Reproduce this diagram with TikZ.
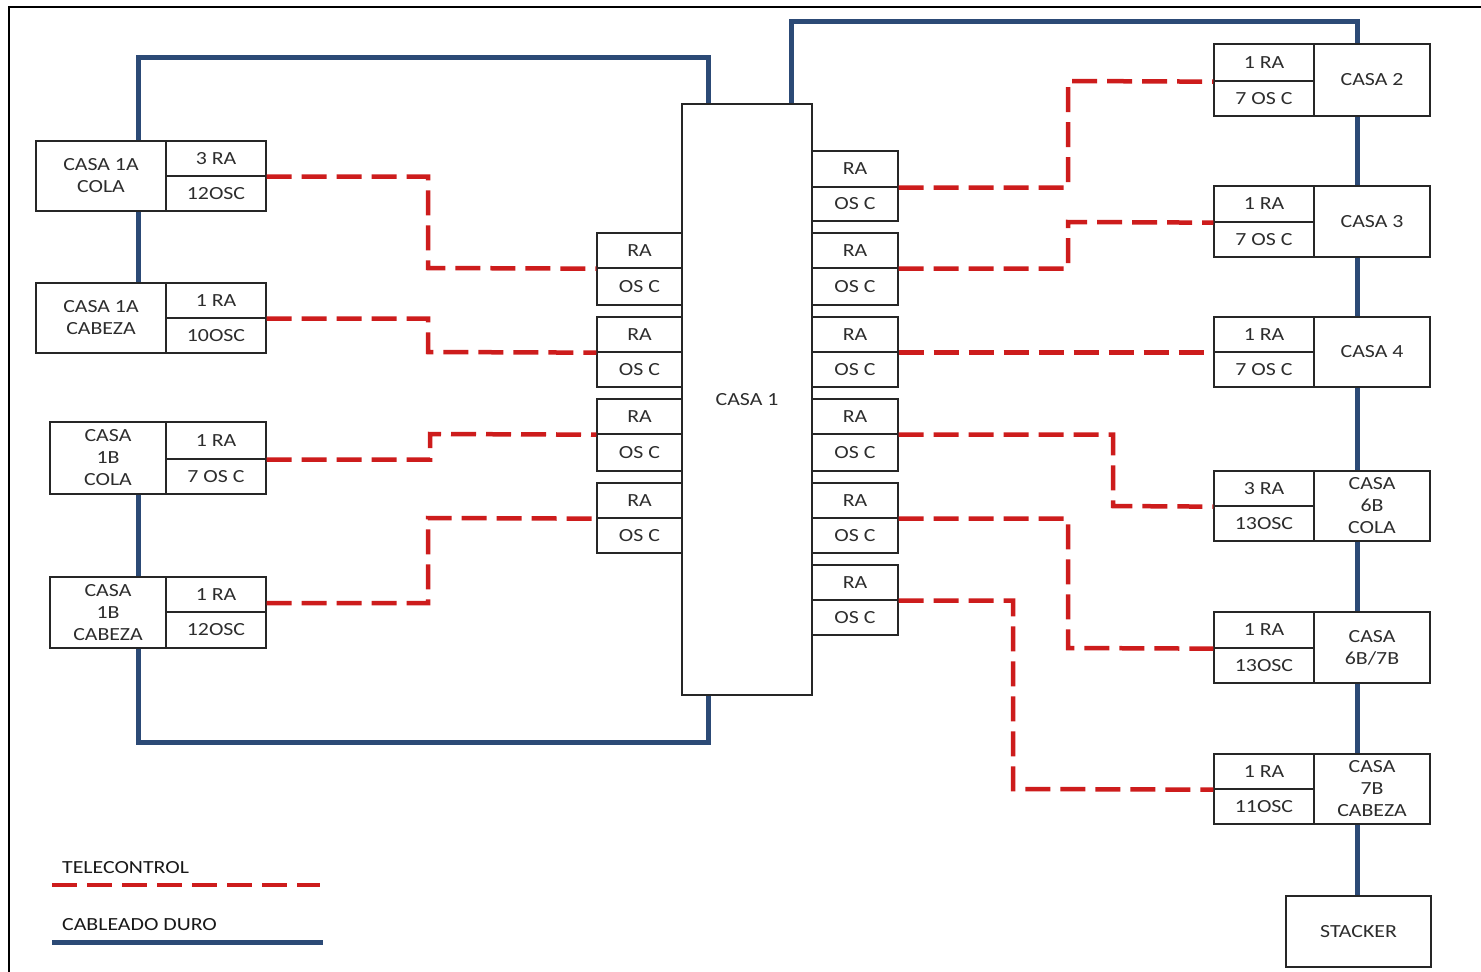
\documentclass[tikz,border=0pt]{standalone}
\usepackage{fontspec}
\newfontfamily\lab{Carlito}[FakeStretch=1.18]
\definecolor{telecol}{RGB}{205,28,28}
\definecolor{cablecol}{RGB}{44,74,118}
\definecolor{txtcol}{RGB}{45,45,45}
\tikzset{
  box/.style={draw=black!85, line width=1.3pt, inner sep=0pt, align=center,
    text=txtcol, font={\lab\fontsize{18.5}{22}\selectfont}},
  cable/.style={line width=5pt, draw=cablecol},
  tele/.style={line width=4.5pt, draw=telecol, dash pattern=on 25pt off 10pt},
  legtxt/.style={anchor=west, inner sep=0pt, text=black!90, font={\lab\fontsize{18.5}{22}\selectfont}},
}
% name, x1, x2, y1, ysplit, y2, top text, bottom text
\newcommand\twobox[8]{%
  \node[box, minimum width={(#3-#2)*1pt}, minimum height={(#5-#4)*1pt}] (#1-t) at ({(#2+#3)/2},{(#4+#5)/2}) {#7};
  \node[box, minimum width={(#3-#2)*1pt}, minimum height={(#6-#5)*1pt}] (#1-b) at ({(#2+#3)/2},{(#5+#6)/2}) {#8};
}
% name, x1, x2, y1, y2, text
\newcommand\onebox[6]{%
  \node[box, minimum width={(#3-#2)*1pt}, minimum height={(#5-#4)*1pt}] (#1) at ({(#2+#3)/2},{(#4+#5)/2}) {#6};
}
\begin{document}
\begin{tikzpicture}[x=1pt,y=-1pt]
\useasboundingbox (0,0) rectangle (1481,972);
\fill[white] (0,0) rectangle (1481,972);
% frame
\draw[line width=2.2pt] (9,972) -- (9,7) -- (1481,7);

% CASA 1 with its modules
\onebox{casa1}{682}{812}{104}{695}{CASA 1}
\twobox{m1}{597}{682}{233}{268}{305}{RA}{OS C}
\twobox{m2}{597}{682}{317}{352}{387}{RA}{OS C}
\twobox{m3}{597}{682}{399}{434}{471}{RA}{OS C}
\twobox{m4}{597}{682}{483}{518}{553}{RA}{OS C}
\twobox{r1}{812}{898}{151}{187}{221}{RA}{OS C}
\twobox{r2}{812}{898}{233}{268}{305}{RA}{OS C}
\twobox{r3}{812}{898}{317}{352}{387}{RA}{OS C}
\twobox{r4}{812}{898}{399}{434}{471}{RA}{OS C}
\twobox{r5}{812}{898}{483}{518}{553}{RA}{OS C}
\twobox{r6}{812}{898}{565}{600}{635}{RA}{OS C}

% left houses
\onebox{c1a}{36}{166}{141}{211}{CASA 1A\\COLA}
\twobox{c1am}{166}{266}{141}{176}{211}{3 RA}{12OSC}
\onebox{c1ah}{36}{166}{283}{353}{CASA 1A\\CABEZA}
\twobox{c1ahm}{166}{266}{283}{318}{353}{1 RA}{10OSC}
\onebox{c1bc}{50}{166}{422}{494}{CASA\\1B\\COLA}
\twobox{c1bcm}{166}{266}{422}{459}{494}{1 RA}{7 OS C}
\onebox{c1bh}{50}{166}{577}{648}{CASA\\1B\\CABEZA}
\twobox{c1bhm}{166}{266}{577}{612}{648}{1 RA}{12OSC}

% right houses
\twobox{c2m}{1214}{1314}{44}{81}{116}{1 RA}{7 OS C}
\onebox{c2}{1314}{1430}{44}{116}{CASA 2}
\twobox{c3m}{1214}{1314}{186}{222}{257}{1 RA}{7 OS C}
\onebox{c3}{1314}{1430}{186}{257}{CASA 3}
\twobox{c4m}{1214}{1314}{317}{352}{387}{1 RA}{7 OS C}
\onebox{c4}{1314}{1430}{317}{387}{CASA 4}
\twobox{c6cm}{1214}{1314}{471}{506}{541}{3 RA}{13OSC}
\onebox{c6c}{1314}{1430}{471}{541}{CASA\\6B\\COLA}
\twobox{c67m}{1214}{1314}{612}{648}{683}{1 RA}{13OSC}
\onebox{c67}{1314}{1430}{612}{683}{CASA\\6B/7B}
\twobox{c7m}{1214}{1314}{754}{789}{824}{1 RA}{11OSC}
\onebox{c7}{1314}{1430}{754}{824}{CASA\\7B\\CABEZA}
\onebox{stacker}{1286}{1431}{896}{967}{STACKER}

% hard wiring (left loop)
\draw[cable] (c1a.north -| 138,0) |- (708,57) -- (casa1.north -| 708,0);
\draw[cable] (c1a.south -| 138,0) -- (c1ah.north -| 138,0);
\draw[cable] (c1bc.south -| 138,0) -- (c1bh.north -| 138,0);
\draw[cable] (c1bh.south -| 138,0) |- (708,742) -- (casa1.south -| 708,0);
% hard wiring (right chain)
\draw[cable] (casa1.north -| 791,0) |- (1357,21) -- (c2.north -| 1357,0);
\draw[cable] (c2.south -| 1357,0) -- (c3.north -| 1357,0);
\draw[cable] (c3.south -| 1357,0) -- (c4.north -| 1357,0);
\draw[cable] (c4.south -| 1357,0) -- (c6c.north -| 1357,0);
\draw[cable] (c6c.south -| 1357,0) -- (c67.north -| 1357,0);
\draw[cable] (c67.south -| 1357,0) -- (c7.north -| 1357,0);
\draw[cable] (c7.south -| 1357,0) -- (stacker.north -| 1357,0);

% telecontrol (left)
\draw[tele] (c1am-t.south east) -| (428,268) -- (m1-t.south west);
\draw[tele] (c1ahm-t.south east) -| (428,352) -- (m2-t.south west);
\draw[tele] (c1bcm-t.south east) -| (430,434) -- (m3-t.south west);
\draw[tele] (c1bhm-t.east |- 0,603) -| (428,518) -- (m4-t.south west);
% telecontrol (right)
\draw[tele] (r1-t.south east) -| (1068,81) -- (c2m-t.south west);
\draw[tele] (r2-t.south east) -| (1068,222) -- (c3m-t.south west);
\draw[tele] (r3-t.south east) -- (c4m-t.south west);
\draw[tele] (r4-t.south east) -| (1113,506) -- (c6cm-t.south west);
\draw[tele] (r5-t.south east) -| (1068,648) -- (c67m-t.south west);
\draw[tele] (r6-t.south east) -| (1013,789) -- (c7m-t.south west);

% legend
\node[legtxt] (lgt) at (62,868) {TELECONTROL};
\coordinate (lt1) at (52,885);
\coordinate (lt2) at (320,885);
\draw[tele] (lt1) -- (lt2);
\node[legtxt] (lgc) at (62,925) {CABLEADO DURO};
\coordinate (lc1) at (52,942);
\coordinate (lc2) at (323,942);
\draw[cable] (lc1) -- (lc2);
\end{tikzpicture}
\end{document}
